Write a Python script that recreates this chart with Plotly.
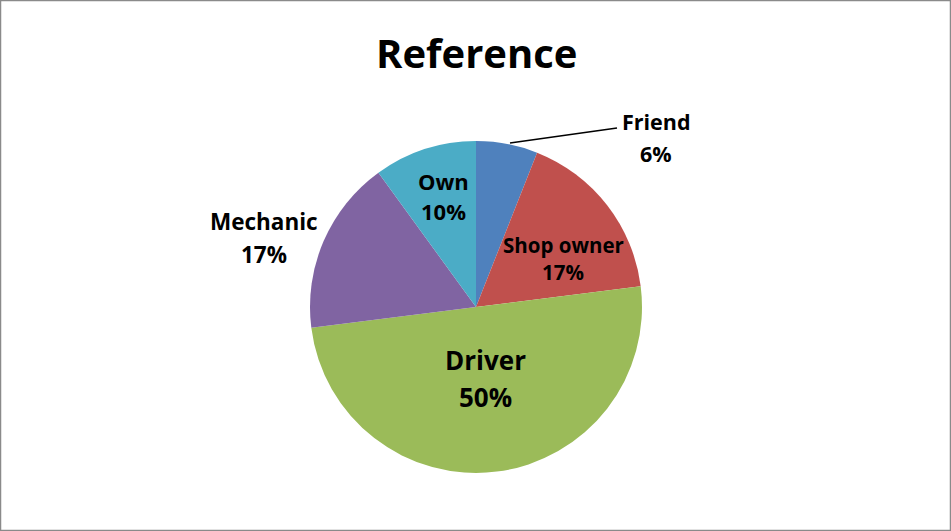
import plotly.graph_objects as go

# data
labels = ["Friend", "Shop owner", "Driver", "Mechanic", "Own"]
shares = [6, 17, 50, 17, 10]
colors = ["#4F81BD", "#C0504D", "#9BBB59", "#8064A2", "#4BACC6"]

W, H = 951, 531


def px(x, y):
    # pixel position -> paper coords (margins are zero)
    return x / W, 1 - y / H


fig = go.Figure(go.Pie(
    labels=labels,
    values=shares,
    sort=False,
    direction="clockwise",
    rotation=0,
    marker=dict(colors=colors, line=dict(width=0)),
    textinfo="none",
    hoverinfo="label+percent",
    domain={'x': [310 / W, 642 / W], 'y': [1 - 473 / H, 1 - 141 / H]},
    showlegend=False,
))

# label placement: x centre, y of name line, y of percent line, font size
label_pos = {
    "Friend": (656, 122, 154, 21.5),
    "Shop owner": (563, 245, 272, 20.5),
    "Driver": (485, 360, 397, 26),
    "Mechanic": (264, 222, 254, 22.5),
    "Own": (443, 181, 211, 22),
}

annotations = []
for name, val in zip(labels, shares):
    x, y_name, y_pct, size = label_pos[name]
    for txt, y in ((name, y_name), (f"{val}%", y_pct)):
        xp, yp = px(x, y)
        annotations.append(dict(
            x=xp, y=yp, xref="paper", yref="paper",
            text=f"<b>{txt}</b>", showarrow=False,
            font=dict(size=size, color="black", family="Open Sans"),
            xanchor="center", yanchor="middle",
        ))

tx, ty = px(476, 52)
annotations.append(dict(
    x=tx, y=ty, xref="paper", yref="paper", text="<b>Reference</b>",
    showarrow=False, font=dict(size=40, color="black", family="Open Sans"),
    xanchor="center", yanchor="middle",
))

x0, y0 = px(510, 143)
x1, y1 = px(617, 128)

fig.update_layout(
    width=W, height=H,
    margin=dict(l=0, r=0, t=0, b=0),
    paper_bgcolor="white",
    plot_bgcolor="white",
    annotations=annotations,
    shapes=[
        dict(type="line", xref="paper", yref="paper", x0=x0, y0=y0, x1=x1, y1=y1,
             line=dict(color="black", width=1.5)),
        dict(type="rect", xref="paper", yref="paper", x0=0, y0=0, x1=1, y1=1,
             line=dict(color="#8a8a8a", width=2.5)),
    ],
)

fig.write_html("out.html", config={'displayModeBar': False},
               post_script="document.body.style.margin='0';")
